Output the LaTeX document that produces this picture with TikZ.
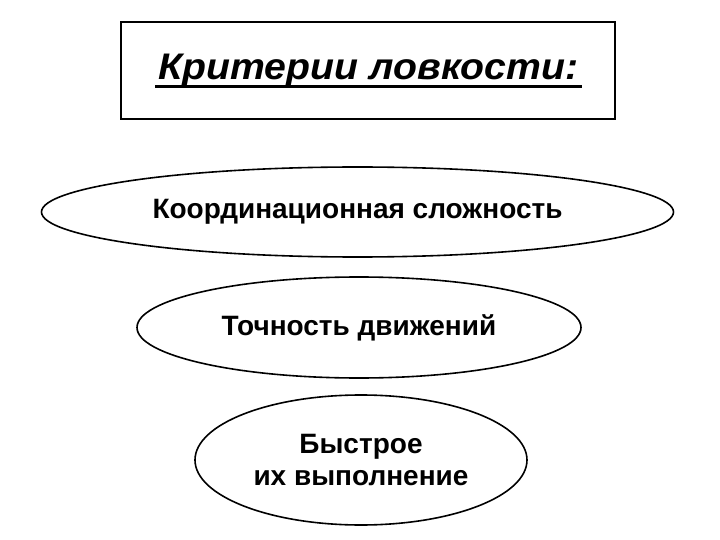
\documentclass[tikz,border=0pt]{standalone}
\usepackage{fontspec}
\setmainfont{Liberation Sans}
\usetikzlibrary{shapes.geometric}
\begin{document}
\begin{tikzpicture}[x=1pt,y=-1pt,
  oval/.style={draw=black,line width=1.6pt,ellipse,inner sep=0pt,font=\bfseries\fontsize{28}{32}\selectfont,align=center},
  titlebox/.style={draw=black,line width=1.8pt,inner sep=0pt},
  uline/.style={draw=black,line width=3pt}]
\useasboundingbox (0,0) rectangle (720,540);
\node[titlebox,minimum width=494,minimum height=97] (title) at (368,70.5) {};
\node[font=\bfseries\itshape\fontsize{37}{42}\selectfont,anchor=base,inner sep=0pt] (tt) at (368.5,80) {\scalebox{1.06}[1]{Критерии ловкости:}};
\coordinate (ul1) at (155,87);
\coordinate (ul2) at (582,87);
\draw[uline] (ul1) -- (ul2);
\node[oval,minimum width=632,minimum height=90] (e1) at (357.5,212) {Координационная сложность};
\node[oval,minimum width=444,minimum height=101] (e2) at (359,327.5) {Точность движений};
\node[oval,minimum width=332,minimum height=130] (e3) at (361,460) {Быстрое\\их выполнение};
\end{tikzpicture}
\end{document}
